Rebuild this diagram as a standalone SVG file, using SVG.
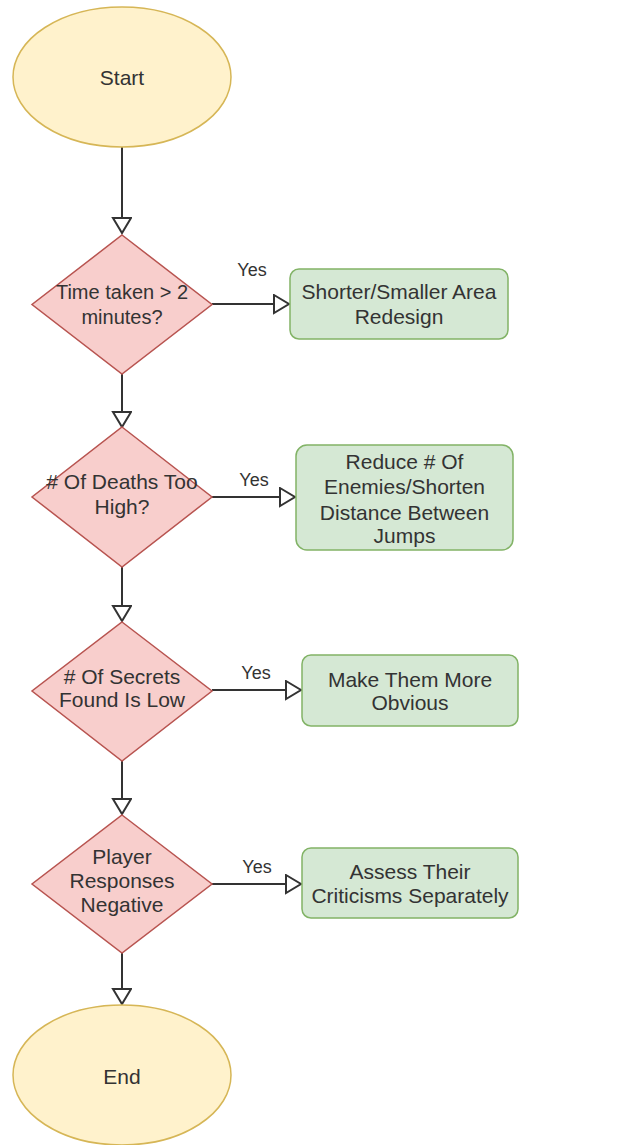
<svg xmlns="http://www.w3.org/2000/svg" width="630" height="1145" viewBox="0 0 630 1145">
<style>
.term{fill:#fff2cc;stroke:#d6b656;stroke-width:1.5}
.dec{fill:#f8cecc;stroke:#b85450;stroke-width:1.5}
.proc{fill:#d5e8d4;stroke:#82b366;stroke-width:1.5}
.t{font-family:"Liberation Sans",Arial,sans-serif;font-size:21px;fill:#333;text-anchor:middle}
.s{font-size:20px}
.y{font-family:"Liberation Sans",Arial,sans-serif;font-size:18px;fill:#333;text-anchor:middle}
.c{fill:none;stroke:#333;stroke-width:2;marker-end:url(#arr)}
</style>
<defs>
<marker id="arr" markerUnits="userSpaceOnUse" markerWidth="20" markerHeight="22" refX="17" refY="10" orient="auto" viewBox="0 0 20 22">
<path d="M2,1 L17,10 L2,19 Z" fill="#fff" stroke="#333" stroke-width="2"/>
</marker>
</defs>
<g id="connectors">
<path class="c" d="M122,147 L122,233"/>
<path class="c" d="M122,374 L122,427"/>
<path class="c" d="M122,567 L122,621"/>
<path class="c" d="M122,761 L122,814"/>
<path class="c" d="M122,953 L122,1004"/>
<path class="c" d="M212,304 L289,304"/>
<path class="c" d="M212,497 L295,497"/>
<path class="c" d="M212,690 L301,690"/>
<path class="c" d="M212,884 L301,884"/>
<text class="y" x="252" y="276">Yes</text>
<text class="y" x="254" y="486">Yes</text>
<text class="y" x="256" y="679">Yes</text>
<text class="y" x="257" y="873">Yes</text>
</g>
<g id="start">
<ellipse class="term" cx="122" cy="77" rx="109" ry="70"/>
<text class="t" x="122" y="85">Start</text>
</g>
<g id="d1">
<polygon class="dec" points="122,235 212,304.5 122,374 32,304.5"/>
<text class="t s" x="122" y="299">Time taken &gt; 2</text>
<text class="t s" x="122" y="324">minutes?</text>
</g>
<g id="b1">
<rect class="proc" x="290" y="269" width="218" height="70" rx="9"/>
<text class="t" x="399" y="299">Shorter/Smaller Area</text>
<text class="t" x="399" y="324">Redesign</text>
</g>
<g id="d2">
<polygon class="dec" points="122,427 212,497 122,567 32,497"/>
<text class="t" x="122" y="489"># Of Deaths Too</text>
<text class="t" x="122" y="514">High?</text>
</g>
<g id="b2">
<rect class="proc" x="296" y="445" width="217" height="105" rx="11"/>
<text class="t" x="404.5" y="469">Reduce # Of</text>
<text class="t" x="404.5" y="494">Enemies/Shorten</text>
<text class="t" x="404.5" y="520">Distance Between</text>
<text class="t" x="404.5" y="543">Jumps</text>
</g>
<g id="d3">
<polygon class="dec" points="122,622 212,691 122,761 32,691"/>
<text class="t" x="122" y="684"># Of Secrets</text>
<text class="t" x="122" y="707">Found Is Low</text>
</g>
<g id="b3">
<rect class="proc" x="302" y="655" width="216" height="71" rx="9"/>
<text class="t" x="410" y="687">Make Them More</text>
<text class="t" x="410" y="710">Obvious</text>
</g>
<g id="d4">
<polygon class="dec" points="122,815 212,884 122,953 32,884"/>
<text class="t" x="122" y="864">Player</text>
<text class="t" x="122" y="888">Responses</text>
<text class="t" x="122" y="912">Negative</text>
</g>
<g id="b4">
<rect class="proc" x="302" y="848" width="216" height="70" rx="9"/>
<text class="t" x="410" y="879">Assess Their</text>
<text class="t" x="410" y="903">Criticisms Separately</text>
</g>
<g id="end">
<ellipse class="term" cx="122" cy="1075" rx="109" ry="70"/>
<text class="t" x="122" y="1084">End</text>
</g>
</svg>
